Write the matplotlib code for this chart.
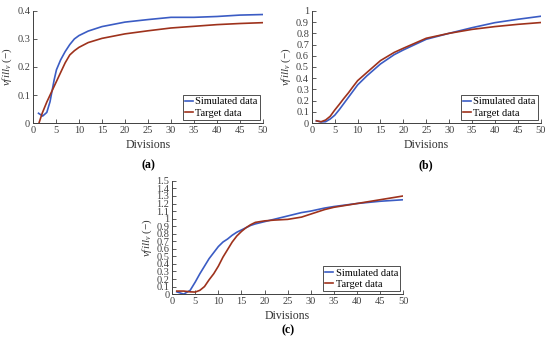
import matplotlib.pyplot as plt
from matplotlib.ticker import FormatStrFormatter, MultipleLocator

plt.rcParams['font.family'] = ['Liberation Serif', 'DejaVu Serif']
plt.rcParams['mathtext.fontset'] = 'custom'
plt.rcParams['mathtext.it'] = 'Liberation Serif:italic'
plt.rcParams['mathtext.rm'] = 'Liberation Serif'

# panel (a)
a_x_sim = [1.2, 2.1, 3, 3.7, 4.6, 5.1, 6, 7, 8, 9, 10, 12, 15, 20, 25, 30,
           35, 40, 45, 50]
a_sim = [0.035, 0.025, 0.038, 0.076, 0.154, 0.19, 0.225, 0.255, 0.28, 0.3,
         0.312, 0.328, 0.344, 0.36, 0.369, 0.377, 0.377, 0.38, 0.385, 0.387]
a_x_tgt = [1.3, 2, 3, 4, 5, 6, 7, 8, 9, 10, 12, 15, 20, 25, 30, 35, 40, 45,
           50]
a_tgt = [0.0, 0.035, 0.075, 0.11, 0.145, 0.18, 0.215, 0.243, 0.258, 0.27,
         0.287, 0.302, 0.318, 0.329, 0.339, 0.345, 0.351, 0.355, 0.358]

# panel (b)
b_x = [1, 2, 3, 4, 5, 6, 7, 8, 9, 10, 12, 15, 18, 20, 25, 30, 35, 40, 45,
       50]
b_sim = [0.02, 0.01, 0.012, 0.036, 0.07, 0.12, 0.175, 0.23, 0.285, 0.34,
         0.42, 0.527, 0.61, 0.652, 0.747, 0.80, 0.85, 0.895, 0.925, 0.952]
b_tgt = [0.02, 0.012, 0.027, 0.06, 0.116, 0.167, 0.22, 0.27, 0.325, 0.378,
         0.45, 0.557, 0.63, 0.667, 0.756, 0.80, 0.835, 0.86, 0.88, 0.896]

# panel (c)
c_x = [1, 2.5, 3.9, 5, 6, 7, 8, 9, 10, 11, 12, 13, 14, 15, 16, 17, 18, 20,
       22, 25, 28, 30, 33, 35, 40, 45, 50]
c_sim = [0.03, 0.0, 0.05, 0.16, 0.27, 0.37, 0.47, 0.55, 0.63, 0.69, 0.73,
         0.78, 0.82, 0.85, 0.88, 0.91, 0.93, 0.96, 0.99, 1.035, 1.08, 1.1,
         1.14, 1.16, 1.2, 1.23, 1.25]
c_tgt = [0.04, 0.04, 0.03, 0.027, 0.05, 0.1, 0.19, 0.27, 0.37, 0.49, 0.59,
         0.69, 0.77, 0.83, 0.88, 0.92, 0.95, 0.97, 0.98, 0.99, 1.02, 1.06,
         1.12, 1.15, 1.2, 1.25, 1.3]

panels = [
    ('(a)', a_x_sim, a_sim, a_x_tgt, a_tgt, 0.4, [0.060, 0.638, 0.418, 0.330]),
    ('(b)', b_x, b_sim, b_x, b_tgt, 1.0, [0.567, 0.638, 0.416, 0.330]),
    ('(c)', c_x, c_sim, c_x, c_tgt, 1.5, [0.313, 0.135, 0.420, 0.333]),
]

sim_col = '#3b5cc4'
tgt_col = '#9e321c'
ax_col = '#404040'

fig = plt.figure(figsize=(5.5, 3.4), dpi=100)

for tag, xs, ys, xt, yt, ymax, pos in panels:
    ax = fig.add_axes(pos)
    ax.plot(xs, ys, color=sim_col, lw=1.2, label='Simulated data')
    ax.plot(xt, yt, color=tgt_col, lw=1.2, label='Target data')
    ax.set_xlim(0, 50)
    ax.set_ylim(0, ymax)
    ax.xaxis.set_major_locator(MultipleLocator(5))
    ax.yaxis.set_major_locator(MultipleLocator(0.1))
    ax.yaxis.set_major_formatter(FormatStrFormatter('%g'))
    ax.spines['top'].set_visible(False)
    ax.spines['right'].set_visible(False)
    for s in ['left', 'bottom']:
        ax.spines[s].set_color(ax_col)
        ax.spines[s].set_linewidth(0.7)
    ax.tick_params(direction='in', length=3, width=0.6, colors=ax_col,
                   labelsize=7.5, pad=2)
    ax.set_xlabel('Divisions', fontsize=8.5, color='#333333', labelpad=3)
    ax.set_ylabel(r'$vfill_{v}$ (−)', fontsize=8, color='#333333', labelpad=2)
    leg = ax.legend(loc='lower right', fontsize=7.5, handlelength=0.8,
                    handletextpad=0.2, borderpad=0.2, labelspacing=0.2,
                    borderaxespad=0.3, fancybox=False, framealpha=1)
    leg.get_frame().set_edgecolor('#333333')
    leg.get_frame().set_linewidth(0.6)
    fig.text(pos[0] + pos[2] / 2, pos[1] - 0.125 if tag != '(c)' else 0.028,
             tag, ha='center', va='center', fontsize=8.5, fontweight='bold')

fig.savefig('out.png', dpi=100)
